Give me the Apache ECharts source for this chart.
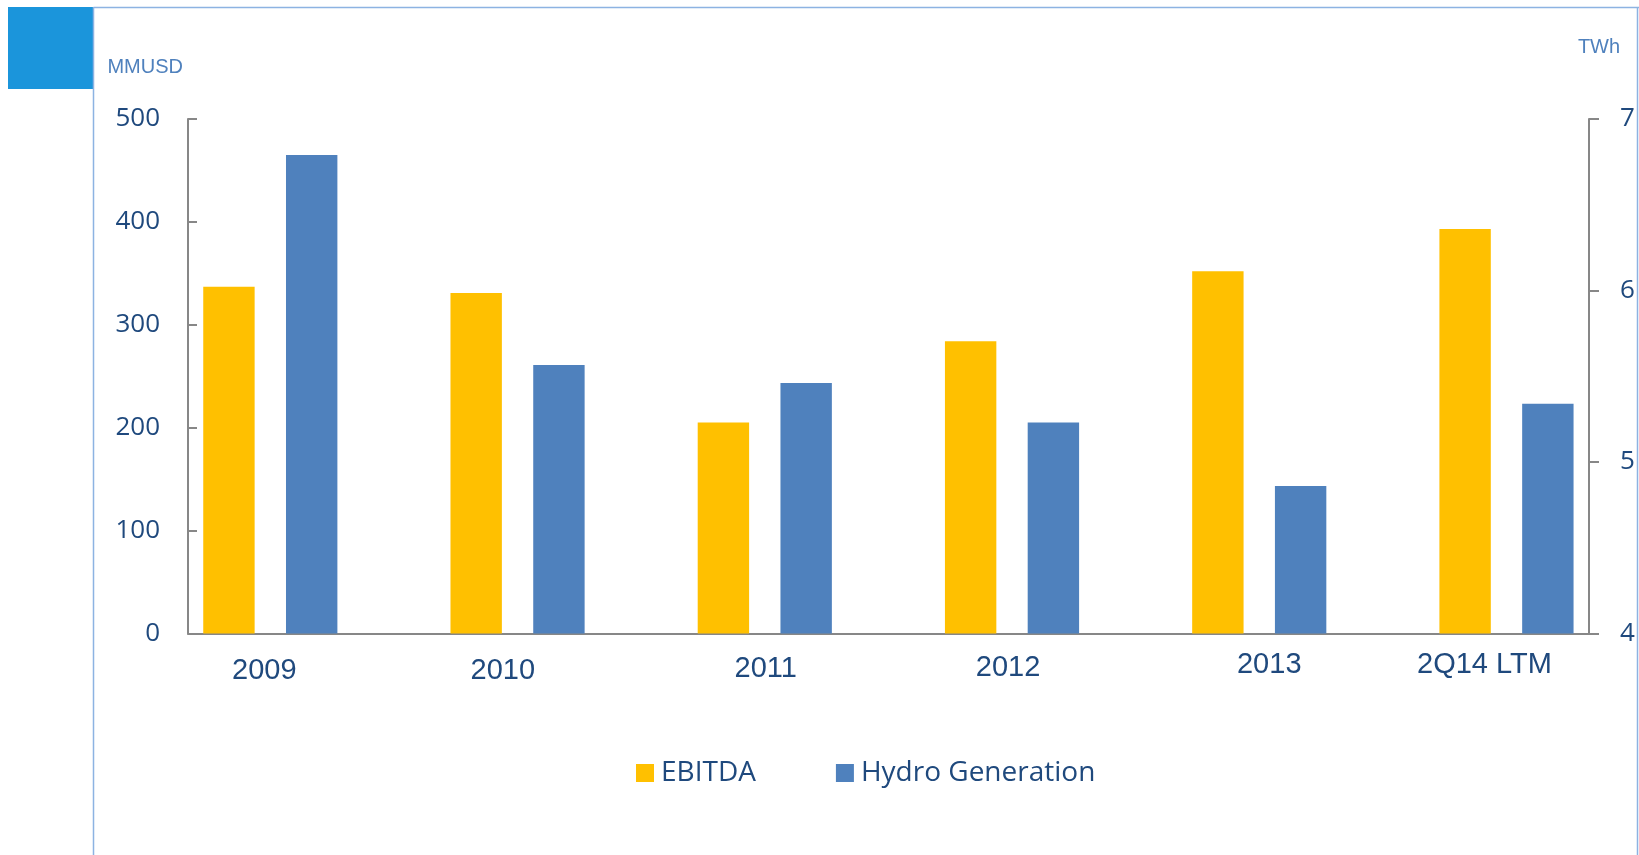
<!DOCTYPE html>
<html><head><meta charset="utf-8">
<script src="https://cdn.jsdelivr.net/npm/echarts@6/dist/echarts.min.js"></script>
<style>html,body{margin:0;padding:0;background:#fff}#c{width:1639px;height:855px}</style>
</head><body><div id="c"></div>
<script>
// ---- data ----
const categories = ['2009', '2010', '2011', '2012', '2013', '2Q14 LTM'];
const ebitda = [337, 331, 205, 284, 352, 393];          // MMUSD (left axis)
const hydroGeneration = [6.79, 5.565, 5.46, 5.23, 4.86, 5.34]; // TWh (right axis)
const seriesNames = ['EBITDA', 'Hydro Generation'];
const leftUnit = 'MMUSD';
const rightUnit = 'TWh';

// ---- layout-only nudges for category labels: [dx px, label centre below axis px] ----
const labelNudge = [[-6, 37.5], [-14.7, 37.5], [1, 35.5], [-4, 34.5], [10, 31], [-22, 31]];

const TEXT = '#1F497D';
const AXIS = '#878787';
const LABEL_MARGIN = 8;
const rich = {};
labelNudge.forEach((n, i) => {
  const dx = n[0];
  rich['c' + i] = {
    fontFamily: 'Liberation Sans, Arial, sans-serif',
    fontSize: 29,
    color: TEXT,
    lineHeight: 2 * (n[1] - LABEL_MARGIN),
    padding: [0, dx < 0 ? -2 * dx : 0, 0, dx > 0 ? 2 * dx : 0]
  };
});

const unitFont = 'Liberation Sans, Arial, sans-serif';
const gridTop = 119, gridBottom = 855 - 633.5;
const chart = echarts.init(document.getElementById('c'), null, {renderer: 'canvas'});
chart.setOption({
  animation: false,
  backgroundColor: '#fff',
  graphic: [
    {type: 'rect', shape: {x: 8, y: 7, width: 85, height: 82}, style: {fill: '#1B95DB'}, z: 0},
    {type: 'line', shape: {x1: 93.5, y1: 7.5, x2: 1639, y2: 7.5}, style: {stroke: '#8DB3E2', lineWidth: 1.5}},
    {type: 'line', shape: {x1: 93.5, y1: 7, x2: 93.5, y2: 855}, style: {stroke: '#8DB3E2', lineWidth: 1.5}},
    {type: 'line', shape: {x1: 1637.5, y1: 7, x2: 1637.5, y2: 855}, style: {stroke: '#8DB3E2', lineWidth: 1.5}}
  ],
  legend: {
    data: seriesNames,
    left: 636, top: 759, padding: 0,
    icon: 'rect', itemWidth: 18, itemHeight: 18, itemGap: 80,
    textStyle: {fontFamily: 'Open Sans', fontSize: 28, color: TEXT, padding: [0, 0, 0, 2]}
  },
  grid: [
    {left: 188, right: 1639 - 1589, top: gridTop, bottom: gridBottom},
    {left: 146.7, right: 1639 - 1630.1, top: gridTop, bottom: gridBottom}
  ],
  xAxis: [
    {type: 'category', gridIndex: 0, data: categories,
     axisLine: {show: true, lineStyle: {color: AXIS, width: 2}},
     axisTick: {show: false}, axisLabel: {show: false}, splitLine: {show: false}},
    {type: 'category', gridIndex: 1, data: categories,
     axisLine: {show: false}, axisTick: {show: false}, splitLine: {show: false},
     axisLabel: {interval: 0, margin: LABEL_MARGIN, fontSize: 29, color: TEXT,
       fontFamily: 'Liberation Sans, Arial, sans-serif',
       formatter: (v, i) => '{c' + i + '|' + v + '}', rich: rich}}
  ],
  yAxis: [
    {type: 'value', gridIndex: 0, position: 'left', min: 0, max: 500, interval: 100,
     name: leftUnit, nameLocation: 'end', nameGap: 52,
     nameTextStyle: {fontFamily: unitFont, fontSize: 20, color: '#4F81BD',
       align: 'right', verticalAlign: 'middle', padding: [0, 5, 0, 0]},
     axisLine: {show: true, lineStyle: {color: AXIS, width: 2}},
     axisTick: {show: true, inside: true, length: 9, lineStyle: {color: AXIS, width: 2}},
     axisLabel: {margin: 28, fontFamily: 'Open Sans', fontSize: 26, color: TEXT, padding: [5, 0, 0, 0]},
     splitLine: {show: false}},
    {type: 'value', gridIndex: 0, position: 'right', min: 4, max: 7, interval: 1,
     name: rightUnit, nameLocation: 'end', nameGap: 72,
     nameTextStyle: {fontFamily: unitFont, fontSize: 20, color: '#4F81BD',
       align: 'center', verticalAlign: 'middle', padding: [0, 0, 0, 20]},
     axisLine: {show: true, lineStyle: {color: AXIS, width: 2}},
     axisTick: {show: true, inside: false, length: 10, lineStyle: {color: AXIS, width: 2}},
     axisLabel: {margin: 31, fontFamily: 'Open Sans', fontSize: 26, color: TEXT, padding: [5, 0, 0, 0]},
     splitLine: {show: false}},
    {type: 'value', gridIndex: 1, min: 0, max: 500, interval: 100, show: false},
    {type: 'value', gridIndex: 1, min: 4, max: 7, interval: 1, show: false}
  ],
  series: [
    {name: seriesNames[0], type: 'bar', xAxisIndex: 1, yAxisIndex: 2, data: ebitda,
     barWidth: 51.4, barGap: '61%', itemStyle: {color: '#FFC000'}},
    {name: seriesNames[1], type: 'bar', xAxisIndex: 1, yAxisIndex: 3, data: hydroGeneration,
     barWidth: 51.4, barGap: '61%', itemStyle: {color: '#4F81BD'}}
  ]
});
</script></body></html>
